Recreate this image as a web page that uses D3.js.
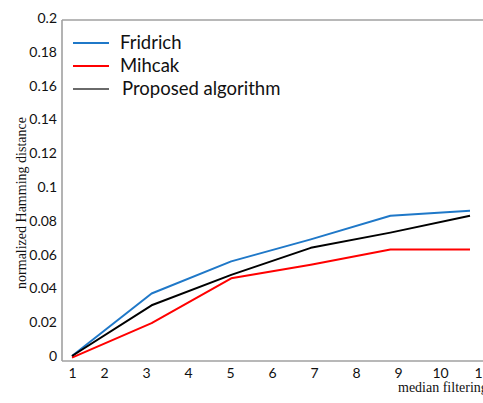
<!DOCTYPE html>
<html>
<head>
<meta charset="utf-8">
<script src="https://cdn.jsdelivr.net/npm/d3@7"></script>
<style>
  body { margin: 0; background: #fff; }
  svg { display: block; }
</style>
</head>
<body>
<svg></svg>
<script>
var width = 483;
var height = 403;

// data
var filterSizes = [1, 3, 5, 7, 9, 11];
var fridrich = [0, 0.037, 0.056, 0.069, 0.083, 0.086];
var mihcak = [-0.001, 0.0195, 0.046, 0.054, 0.063, 0.063];
var proposed = [0, 0.030, 0.048, 0.064, 0.073, 0.083];

var seriesNames = ["Fridrich", "Mihcak", "Proposed algorithm"];
var seriesColors = ["#1f78c8", "#ff0000", "#000000"];
var legendColors = ["#1f78c8", "#ff0000", "#6a6a6a"];

var xTickValues = [1, 2, 3, 4, 5, 6, 7, 8, 9, 10, 11];
var yTickValues = [0, 0.02, 0.04, 0.06, 0.08, 0.1, 0.12, 0.14, 0.16, 0.18, 0.2];
var yTickLabels = ["0", "0.02", "0.04", "0.06", "0.08", "0.1", "0.12", "0.14", "0.16", "0.18", "0.2"];

var frameLeft = 62, frameTop = 20, frameBottom = 361;

var series = seriesNames.map(function (name, i) {
  var vals = [fridrich, mihcak, proposed][i];
  return {
    name: name,
    color: seriesColors[i],
    legendColor: legendColors[i],
    points: filterSizes.map(function (x, j) { return { x: x, y: vals[j] }; })
  };
});

// prettier-ignore
var xScale = d3.scaleLinear()
                .domain([1, 11])
                .range([72, 470]);

// tick labels sit a little unevenly in the original
// prettier-ignore
var xLabelScale = d3.scaleLinear()
                .domain([1, 2, 10])
                .range([72, 104, 440]);

// prettier-ignore
var yScale = d3.scaleLinear()
                .domain([0, 0.2])
                .range([356, 18]);

// prettier-ignore
var svg = d3.select("svg")
            .attr("width", width)
            .attr("height", height);

// frame: left, top, bottom
var frame = svg.append("g")
    .attr("stroke", "#a0a0a0")
    .attr("stroke-width", 1.6)
    .attr("fill", "none");
frame.append("line").attr("x1", frameLeft).attr("x2", frameLeft).attr("y1", frameTop).attr("y2", frameBottom);
frame.append("line").attr("x1", frameLeft).attr("x2", width).attr("y1", frameTop).attr("y2", frameTop);
frame.append("line").attr("x1", frameLeft).attr("x2", width).attr("y1", frameBottom).attr("y2", frameBottom);

// prettier-ignore
var xAxis = d3.axisBottom(xLabelScale)
              .tickValues(xTickValues)
              .tickFormat(d3.format("d"))
              .tickSize(0)
              .tickPadding(7.5);

// prettier-ignore
var yAxis = d3.axisLeft(yScale)
              .tickValues(yTickValues)
              .tickFormat(function (d, i) { return yTickLabels[i]; })
              .tickSize(0)
              .tickPadding(5);

var gx = svg.append("g")
    .attr("transform", "translate(0," + frameBottom + ")")
    .call(xAxis);
var gy = svg.append("g")
    .attr("transform", "translate(" + frameLeft + ",0)")
    .call(yAxis);

[gx, gy].forEach(function (g) {
  g.select(".domain").remove();
  g.selectAll("text")
    .attr("fill", "#111")
    .style("font-family", "Lato, 'Open Sans', sans-serif")
    .style("font-size", "14px");
});

// prettier-ignore
var line = d3.line()
              .x(d => xScale(d.x))
              .y(d => yScale(d.y));

svg.selectAll("path.series")
    .data(series)
    .enter()
    .append("path")
      .attr("class", "series")
      .attr("d", d => line(d.points))
      .attr("fill", "none")
      .attr("stroke", d => d.color)
      .attr("stroke-width", 2)
      .attr("stroke-linejoin", "round");

// legend
var legend = svg.selectAll("g.legend")
    .data(series)
    .enter()
    .append("g")
      .attr("class", "legend")
      .attr("transform", (d, i) => "translate(73," + (43 + i * 23) + ")");

legend.append("line")
    .attr("x1", 0)
    .attr("x2", 36)
    .attr("stroke", d => d.legendColor)
    .attr("stroke-width", 2);

legend.append("text")
    .attr("x", (d, i) => i === 2 ? 49 : 47)
    .attr("dy", "0.35em")
    .attr("fill", "#111")
    .style("font-family", "Lato, 'Open Sans', sans-serif")
    .style("font-size", "18.5px")
    .text(d => d.name);

// axis titles
svg.append("text")
    .attr("transform", "rotate(-90)")
    .attr("x", -203)
    .attr("y", 21)
    .attr("dy", "0.35em")
    .attr("text-anchor", "middle")
    .attr("fill", "#111")
    .style("font-family", "'Liberation Serif', serif")
    .style("font-size", "14px")
    .text("normalized Hamming distance");

svg.append("text")
    .attr("x", 398)
    .attr("y", 392)
    .attr("fill", "#111")
    .style("font-family", "'Liberation Serif', serif")
    .style("font-size", "14px")
    .text("median filtering");
</script>
</body>
</html>
